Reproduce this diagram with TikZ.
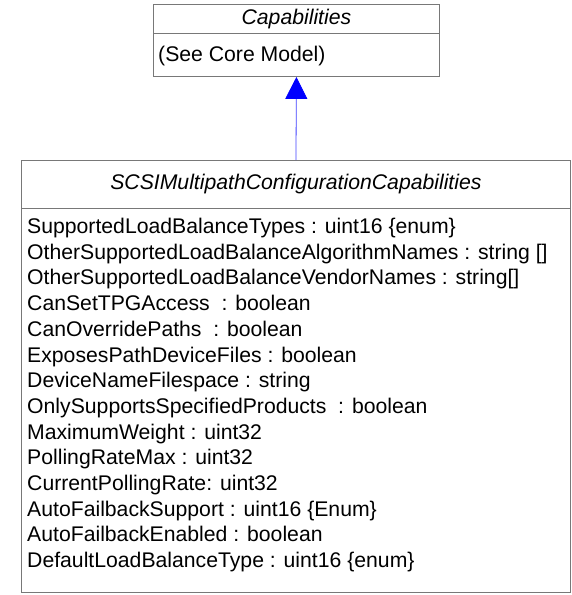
\documentclass[tikz,border=0pt]{standalone}
\usepackage{fontspec}
\setmainfont{Liberation Sans}
\usetikzlibrary{arrows.meta}
\definecolor{boxline}{RGB}{120,120,120}
\definecolor{arrblue}{RGB}{0,0,255}
\tikzset{
  umlbox/.style={draw=boxline, line width=0.9pt, rectangle, inner sep=0pt, anchor=north west},
  attr/.style={anchor=base west, inner sep=0pt},
  genarrow/.style={draw=arrblue!75, line width=0.8pt, -{Triangle[length=22pt,width=22pt,fill=arrblue,color=arrblue]}}
}
\begin{document}
\begin{tikzpicture}[x=1pt,y=-1pt]
\useasboundingbox (0,0) rectangle (571,595);
\fontsize{21.2}{25.6}\selectfont
% Capabilities
\node[umlbox, minimum width=286pt, minimum height=29pt] (caph) at (153,4) {\itshape Capabilities};
\node[umlbox, minimum width=286pt, minimum height=43pt] (capb) at (153,33) {};
\node[attr] (capt) at (158,61) {(See Core Model)};
% SCSIMultipathConfigurationCapabilities
\node[umlbox, minimum width=549pt, minimum height=48pt] (scsih) at (21,160) {\itshape SCSIMultipathConfigurationCapabilities};
\node[umlbox, minimum width=549pt, minimum height=384pt] (scsib) at (21,208) {};
\foreach \t [count=\i] in {
  SupportedLoadBalanceTypes : uint16 \{enum\},
  OtherSupportedLoadBalanceAlgorithmNames : string [],
  OtherSupportedLoadBalanceVendorNames : string[],
  CanSetTPGAccess\ \ : boolean,
  CanOverridePaths\ \ : boolean,
  ExposesPathDeviceFiles : boolean,
  DeviceNameFilespace : string,
  OnlySupportsSpecifiedProducts\ \ : boolean,
  MaximumWeight : uint32,
  PollingRateMax : uint32,
  CurrentPollingRate: uint32,
  AutoFailbackSupport : uint16 \{Enum\},
  AutoFailbackEnabled : boolean,
  DefaultLoadBalanceType : uint16 \{enum\}}
  \node[attr] (a\i) at (27,{233.5+(\i-1)*25.7}) {\t};
% generalization
\draw[genarrow] (scsih.north) -- (capb.south);
\end{tikzpicture}
\end{document}
